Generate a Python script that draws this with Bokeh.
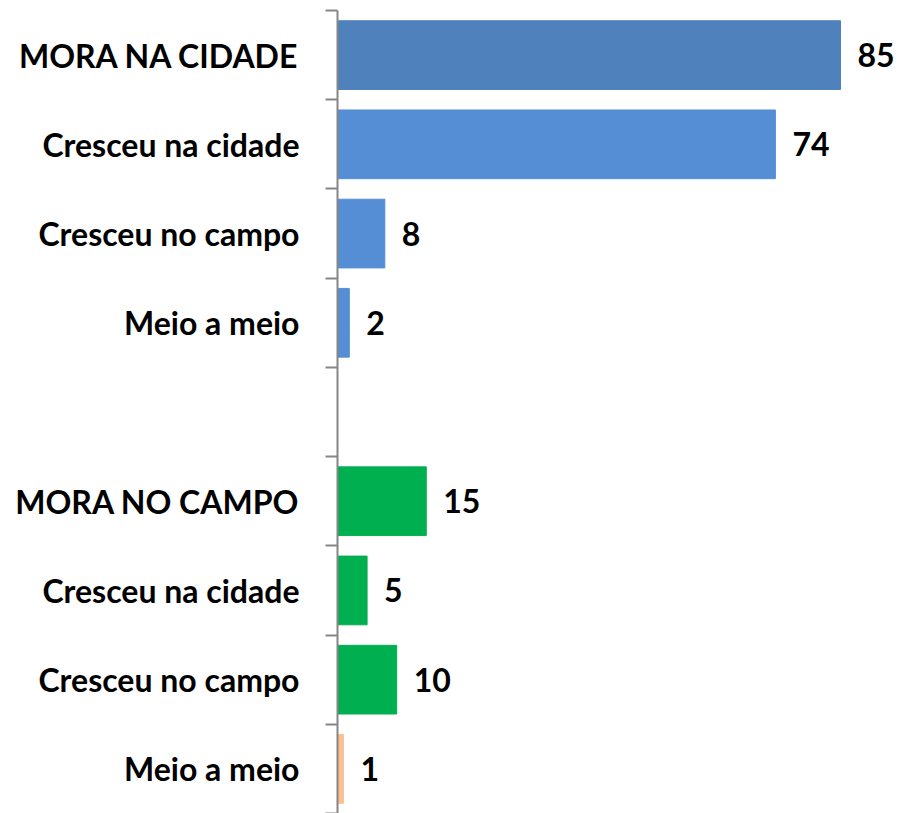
from bokeh.plotting import figure
from bokeh.models import Range1d, FixedTicker, ColumnDataSource
from bokeh.core.properties import value
from bokeh.embed import file_html
from bokeh.resources import INLINE

labels = ["MORA NA CIDADE", "Cresceu na cidade", "Cresceu no campo", "Meio a meio", "",
          "MORA NO CAMPO", "Cresceu na cidade", "Cresceu no campo", "Meio a meio"]
values = [85, 74, 8, 2, None, 15, 5, 10, 1]
colors = ["#4F81BD", "#558ED5", "#558ED5", "#558ED5", None,
          "#00B050", "#00B050", "#00B050", "#FAC090"]

idx = [i for i, v in enumerate(values) if v is not None]
centers = [i + 0.5 for i in idx]
src = ColumnDataSource(dict(
    y=centers,
    v=[values[i] for i in idx],
    c=[colors[i] for i in idx],
    t=[str(values[i]) for i in idx],
))

p = figure(width=898, height=813, output_backend="svg", toolbar_location=None,
           x_range=Range1d(0, 94.8), y_range=Range1d(9, 0),
           min_border_top=10, min_border_bottom=0, min_border_right=0,
           min_border_left=337)
p.hbar(y="y", right="v", left=0, height=0.77, color="c", source=src)
p.text(x="v", y="y", text="t", source=src, x_offset=17,
       text_align="left", text_baseline="middle",
       text_font=value("Lato"), text_font_style="bold",
       text_font_size="32px", text_color="black")

p.outline_line_color = None
p.grid.visible = False
p.xaxis.visible = False

ya = p.yaxis[0]
ya.ticker = FixedTicker(ticks=[i + 0.5 for i in range(9)],
                        minor_ticks=list(range(10)))
ya.major_label_overrides = {i + 0.5: labels[i] for i in range(9)}
ya.major_tick_out = 0
ya.major_tick_in = 0
ya.minor_tick_out = 12
ya.minor_tick_in = 0
ya.minor_tick_line_color = "#868686"
ya.minor_tick_line_width = 2
ya.axis_line_color = "#868686"
ya.axis_line_width = 2
ya.major_label_standoff = 26
ya.major_label_text_font = "Lato"
ya.major_label_text_font_style = "bold"
ya.major_label_text_font_size = "32px"
ya.major_label_text_color = "black"

open("out.html", "w").write(file_html(p, INLINE))
